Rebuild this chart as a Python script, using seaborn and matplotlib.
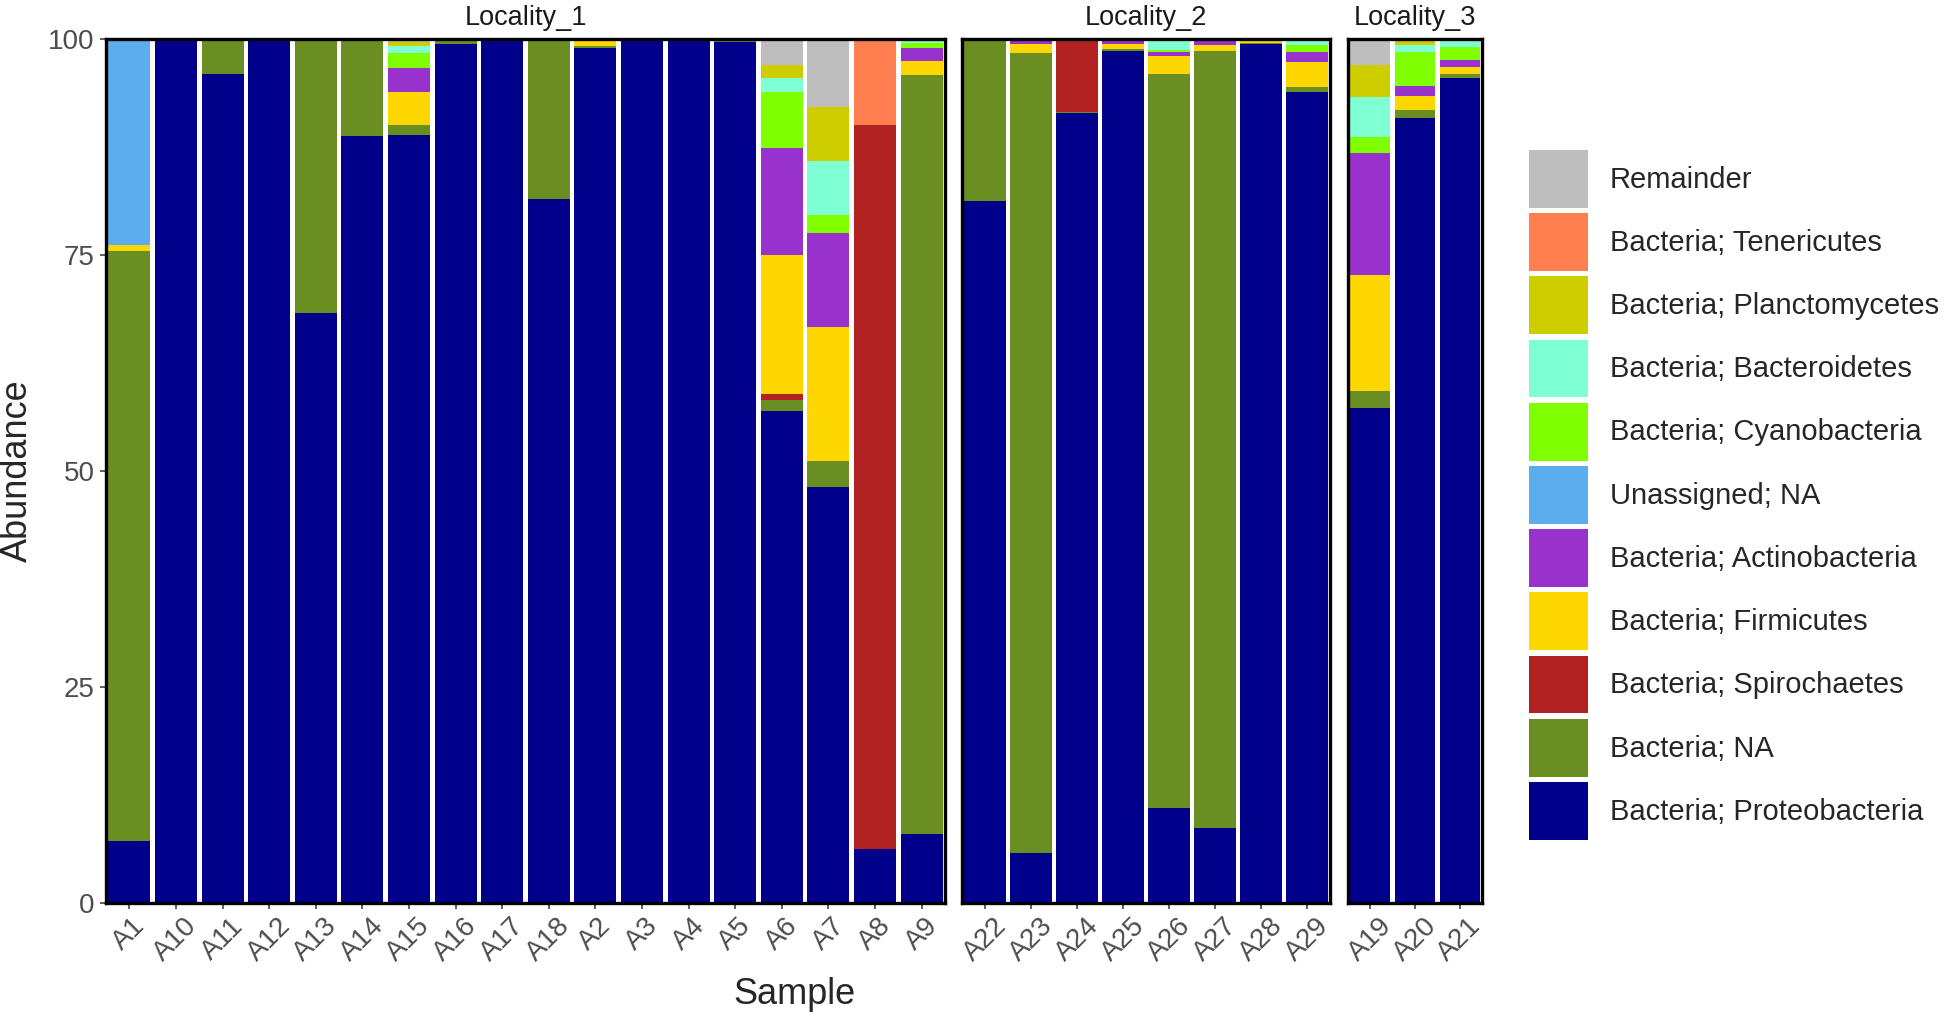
import pandas as pd
import seaborn as sns
import matplotlib.pyplot as plt
from matplotlib.patches import Patch

# samples per locality (facet)
loc1 = ['A1', 'A10', 'A11', 'A12', 'A13', 'A14', 'A15', 'A16', 'A17', 'A18',
        'A2', 'A3', 'A4', 'A5', 'A6', 'A7', 'A8', 'A9']
loc2 = ['A22', 'A23', 'A24', 'A25', 'A26', 'A27', 'A28', 'A29']
loc3 = ['A19', 'A20', 'A21']
samples = loc1 + loc2 + loc3

# abundance per taxon, same sample order as above (loc1, loc2, loc3)
proteo     = [7.2, 99.8, 96.0, 100, 68.3, 88.8, 88.9, 99.4, 99.8, 81.5, 99.0, 100, 100, 99.7, 56.9, 48.1, 6.3, 8.0,
              81.3, 5.8, 91.4, 98.6, 11.0, 8.7, 99.4, 93.9,
              57.3, 90.9, 95.5]
bact_na    = [68.3, 0.2, 4.0, 0, 31.7, 11.2, 1.2, 0.6, 0.2, 18.5, 0.2, 0, 0, 0.3, 1.36, 3.05, 0, 87.8,
              18.7, 92.6, 0.2, 0.3, 84.9, 89.9, 0.14, 0.6,
              1.94, 0.9, 0.46]
spiro      = [0, 0, 0, 0, 0, 0, 0, 0, 0, 0, 0, 0, 0, 0, 0.66, 0, 83.8, 0,
              0, 0, 8.4, 0, 0, 0, 0, 0,
              0, 0, 0]
firmi      = [0.6, 0, 0, 0, 0, 0, 3.8, 0, 0, 0, 0.8, 0, 0, 0, 16.1, 15.5, 0, 1.66,
              0, 1.0, 0, 0.5, 2.1, 0.75, 0.46, 2.85,
              13.4, 1.55, 0.85]
actino     = [0, 0, 0, 0, 0, 0, 2.8, 0, 0, 0, 0, 0, 0, 0, 12.4, 10.9, 0, 1.55,
              0, 0.35, 0, 0.6, 0.46, 0.55, 0, 1.16,
              14.2, 1.16, 0.77]
unassigned = [23.9, 0, 0, 0, 0, 0, 0, 0, 0, 0, 0, 0, 0, 0, 0, 0, 0, 0,
              0, 0, 0, 0, 0, 0, 0, 0,
              0, 0, 0]
cyano      = [0, 0, 0, 0, 0, 0, 1.65, 0, 0, 0, 0, 0, 0, 0, 6.4, 2.1, 0, 0.5,
              0, 0.25, 0, 0, 0.3, 0.1, 0, 0.77,
              1.86, 4.0, 1.47]
bacteroid  = [0, 0, 0, 0, 0, 0, 0.85, 0, 0, 0, 0, 0, 0, 0, 1.67, 6.26, 0, 0.5,
              0, 0, 0, 0, 1.05, 0, 0, 0.45,
              4.64, 0.77, 0.77]
plancto    = [0, 0, 0, 0, 0, 0, 0.5, 0, 0, 0, 0, 0, 0, 0, 1.46, 6.2, 0, 0,
              0, 0, 0, 0, 0, 0, 0, 0,
              3.67, 0.58, 0.2]
teneri     = [0, 0, 0, 0, 0, 0, 0, 0, 0, 0, 0, 0, 0, 0, 0, 0, 9.7, 0,
              0, 0, 0, 0, 0, 0, 0, 0,
              0, 0, 0]
remainder  = [0, 0, 0, 0, 0, 0, 0.3, 0, 0, 0, 0, 0, 0, 0, 3.05, 7.9, 0.2, 0,
              0, 0, 0, 0, 0.19, 0, 0, 0.27,
              2.99, 0.14, 0]

# legend order (top of stack first)
taxa = ['Remainder', 'Bacteria; Tenericutes', 'Bacteria; Planctomycetes',
        'Bacteria; Bacteroidetes', 'Bacteria; Cyanobacteria', 'Unassigned; NA',
        'Bacteria; Actinobacteria', 'Bacteria; Firmicutes', 'Bacteria; Spirochaetes',
        'Bacteria; NA', 'Bacteria; Proteobacteria']
values = [remainder, teneri, plancto, bacteroid, cyano, unassigned,
          actino, firmi, spiro, bact_na, proteo]
colors = ['#BEBEBE', '#FF7F50', '#CDCD00', '#7FFFD4', '#7FFF00', '#5CACEE',
          '#9932CC', '#FFD700', '#B22222', '#6B8E23', '#00008B']
palette = dict(zip(taxa, colors))

rows = []
for t, vals in zip(taxa, values):
    for s, v in zip(samples, vals):
        loc = 'Locality_1' if s in loc1 else ('Locality_2' if s in loc2 else 'Locality_3')
        rows.append({'Sample': s, 'Taxon': t, 'Abundance': v, 'Locality': loc})
df = pd.DataFrame(rows)

sns.set_style('white')
plt.rcParams['font.family'] = ['Liberation Sans', 'DejaVu Sans']

W, H = 1944, 1018
fig = plt.figure(figsize=(W / 100, H / 100), dpi=100)

# panel extents in pixels (left, right)
panels = [('Locality_1', loc1, 106, 945), ('Locality_2', loc2, 962, 1330), ('Locality_3', loc3, 1348, 1482)]
top, bottom = 39, 903

for i, (name, order, x0, x1) in enumerate(panels):
    ax = fig.add_axes([x0 / W, 1 - bottom / H, (x1 - x0) / W, (bottom - top) / H])
    sub = df[df['Locality'] == name].copy()
    sub['Sample'] = pd.Categorical(sub['Sample'], categories=order, ordered=True)
    sns.histplot(data=sub, x='Sample', weights='Abundance', hue='Taxon', hue_order=taxa,
                 multiple='stack', discrete=True, shrink=0.9, palette=palette,
                 linewidth=0, alpha=1, legend=False, ax=ax)
    ax.set_xlim(-0.5, len(order) - 0.5)
    ax.set_ylim(0, 100)
    ax.set_xticks(range(len(order)))
    ax.set_xticklabels(order, rotation=45, ha='center', va='top')
    ax.set_xlabel('')
    ax.set_ylabel('')
    for sp in ax.spines.values():
        sp.set_visible(True)
        sp.set_color('black')
        sp.set_linewidth(2.4)
    ax.tick_params(axis='both', length=4.3, width=1.1, color='#333333',
                   labelsize=20, labelcolor='#4D4D4D', pad=3, bottom=True, left=(i == 0))
    if i == 0:
        ax.set_yticks([0, 25, 50, 75, 100])
        ax.tick_params(axis='y', pad=4)
    else:
        ax.set_yticks([])
    ax.set_title(name, fontsize=19.5, color='#1A1A1A', pad=10)

fig.text(17 / W, 1 - 471 / H, 'Abundance', rotation=90, ha='center', va='center', fontsize=26)
fig.text(794 / W, 1 - 994 / H, 'Sample', ha='center', va='center', fontsize=26)

handles = [Patch(facecolor=c, edgecolor='none', label=t) for t, c in zip(taxa, colors)]
fig.legend(handles=handles, loc='upper left', bbox_to_anchor=(1529 / W, 1 - 150 / H),
           frameon=False, fontsize=21, handlelength=2.02, handleheight=2.665,
           labelspacing=0.19, handletextpad=0.75, borderpad=0, borderaxespad=0)

fig.savefig('out.png', dpi=100)
